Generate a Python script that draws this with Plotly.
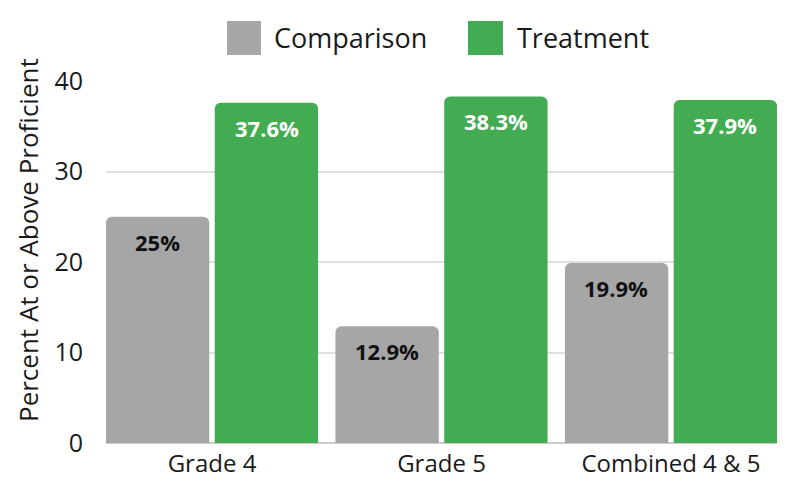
import plotly.graph_objects as go

categories = ["Grade 4", "Grade 5", "Combined 4 & 5"]
comparison = [25.0, 12.9, 19.9]
treatment = [37.6, 38.3, 37.9]
series_names = ["Comparison", "Treatment"]
y_ticks = [0, 10, 20, 30, 40]
y_title = "Percent At or Above Proficient"

GRAY = "#a6a6a6"
GREEN = "#43ac52"
TEXT = "#1a1a1a"
FONT = "Open Sans"

# the page body adds an 8px offset; size the figure to fill the visible window
OFF = 8
W, H = 785 - OFF, 479 - OFF
# plot area in screenshot pixels: x 106..777, y 81..443
L, T = 106 - OFF, 81 - OFF
R = W - (777 - OFF)
B = H - (443 - OFF)
pw, ph = W - L - R, H - T - B

fig = go.Figure()
fig.add_trace(go.Bar(x=categories, y=comparison, name=series_names[0],
                     marker=dict(color=GRAY, cornerradius=6, line=dict(width=0)),
                     showlegend=False))
fig.add_trace(go.Bar(x=categories, y=treatment, name=series_names[1],
                     marker=dict(color=GREEN, cornerradius=6, line=dict(width=0)),
                     showlegend=False))

# value labels inside bars near their tops
slot_px = 54.5
for vals, shift, col in [(comparison, -slot_px, "#111111"), (treatment, slot_px, "white")]:
    for c, v in zip(categories, vals):
        fig.add_annotation(x=c, y=v, xref="x", yref="y", text=f"{v:g}%",
                           showarrow=False, xshift=shift, yshift=-25,
                           font=dict(family=FONT, size=22, color=col, weight="bold"))

# helpers: screenshot pixel -> paper coordinates
def px_x(p):
    return (p - OFF - L) / pw

def px_y(p):
    return (H - B - (p - OFF)) / ph

# manual legend (large square swatches)
for (x0, x1), col, name, tx in [((227, 261), GRAY, series_names[0], 272),
                                 ((468, 503), GREEN, series_names[1], 515)]:
    fig.add_shape(type="rect", xref="paper", yref="paper",
                  x0=px_x(x0), x1=px_x(x1), y0=px_y(55), y1=px_y(21),
                  fillcolor=col, line=dict(width=0), layer="above")
    fig.add_annotation(xref="paper", yref="paper", x=px_x(tx), y=px_y(37),
                       xanchor="left", yanchor="middle", showarrow=False,
                       text=name, font=dict(family=FONT, size=27, color=TEXT))

# y-axis title
fig.add_annotation(xref="paper", yref="paper", x=px_x(28), y=px_y(240),
                   xanchor="center", yanchor="middle", showarrow=False,
                   textangle=-90, text=y_title, borderpad=0,
                   font=dict(family=FONT, size=26, color=TEXT))

fig.update_layout(
    width=W, height=H,
    margin=dict(l=L, r=R, t=T, b=B, pad=0, autoexpand=False),
    paper_bgcolor="white", plot_bgcolor="white",
    barmode="group", bargap=0.052, bargroupgap=0.05,
    font=dict(family=FONT, color=TEXT),
)
fig.update_xaxes(range=[-0.462, 2.462], showgrid=False, ticks="",
                 tickfont=dict(family=FONT, size=24, color=TEXT),
                 ticklabelstandoff=4, showline=False, zeroline=False,
                 automargin=False)
fig.update_yaxes(range=[0, 40], tickvals=y_ticks, showgrid=True,
                 gridcolor="#e0e0e0", gridwidth=2, zeroline=True,
                 zerolinecolor="#cccccc", zerolinewidth=2,
                 tickfont=dict(family=FONT, size=25, color=TEXT),
                 ticklabelstandoff=22, automargin=False)

fig.write_html("out.html")
